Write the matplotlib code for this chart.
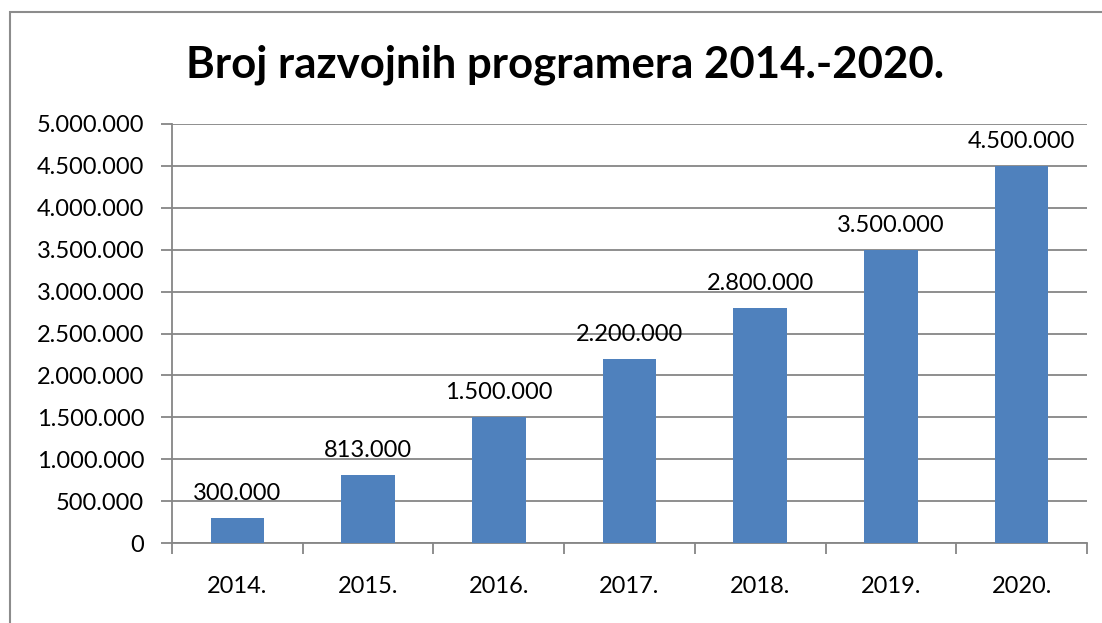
import matplotlib
matplotlib.use("Agg")
import matplotlib.pyplot as plt
from matplotlib.patches import Rectangle

years = ["2014.", "2015.", "2016.", "2017.", "2018.", "2019.", "2020."]
developers = [300000, 813000, 1500000, 2200000, 2800000, 3500000, 4500000]
y_ticks = [0, 500000, 1000000, 1500000, 2000000, 2500000, 3000000, 3500000, 4000000, 4500000, 5000000]

plt.rcParams['font.family'] = ['Lato', 'DejaVu Sans']


def fmt(v):
    return f"{v:,}".replace(",", ".")


fig = plt.figure(figsize=(11.02, 6.23), dpi=100)
# chart frame (only left and top edge visible in the crop)
fig.patches.append(Rectangle((10 / 1102, -0.1), 1.2, 1 - 12 / 623 + 0.1, transform=fig.transFigure,
                             fill=False, edgecolor="#8c8c8c", linewidth=1.5))

ax = fig.add_axes([172 / 1102, 1 - 543 / 623, (1087 - 172) / 1102, (543 - 124) / 623])
x = list(range(len(years)))
ax.bar(x, developers, width=0.41, color="#4F81BD", zorder=3)
for xi, v in zip(x, developers):
    ax.annotate(fmt(v), (xi, v), xytext=(0, 10), textcoords="offset points",
                ha="center", va="bottom", fontsize=17, color="black")

ax.set_xlim(-0.5, len(years) - 0.5)
ax.set_ylim(0, 5000000)
ax.set_yticks(y_ticks)
ax.set_yticklabels([fmt(v) for v in y_ticks], fontsize=17)
ax.set_xticks(x)
ax.set_xticklabels(years, fontsize=17)
ax.tick_params(axis="x", length=0, pad=24)
ax.set_xticks([i - 0.5 for i in range(len(years) + 1)], minor=True)
ax.tick_params(axis="x", which="minor", length=8, color="#868686", width=1.3)
ax.tick_params(axis="y", length=8, color="#868686", width=1.3, pad=12)
ax.grid(axis="y", color="#868686", linewidth=1.3, zorder=0)
for s in ["top", "right"]:
    ax.spines[s].set_visible(False)
for s in ["left", "bottom"]:
    ax.spines[s].set_color("#868686")
    ax.spines[s].set_linewidth(1.3)

fig.text(565 / 1102, 1 - 65 / 623, "Broj razvojnih programera 2014.-2020.", ha="center", va="center",
         fontsize=31.5, fontweight="bold")

fig.savefig("out.png", dpi=100)
